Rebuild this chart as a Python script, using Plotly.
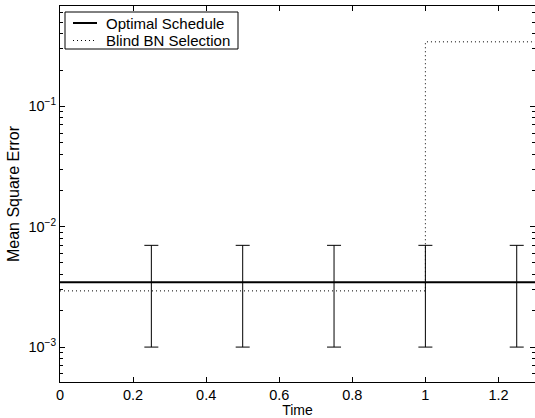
import plotly.graph_objects as go

# Data
opt_time = [0.0, 1.3]
opt_mse = [3.45e-3, 3.45e-3]

blind_time = [0.0, 1.0, 1.3]
blind_mse = [2.93e-3, 0.343, 0.343]

err_time = [0.25, 0.5, 0.75, 1.0, 1.25]
err_center = [3.45e-3] * 5
err_upper = [7.0e-3] * 5
err_lower = [1.0e-3] * 5

x_ticks = [0, 0.2, 0.4, 0.6, 0.8, 1.0, 1.2]
x_tick_labels = ["0", "0.2", "0.4", "0.6", "0.8", "1", "1.2"]

y_ticks = [1e-3, 1e-2, 1e-1]
y_tick_labels = ["10<sup>\u22123</sup>", "10<sup>\u22122</sup>", "10<sup>\u22121</sup>"]

legend_names = ["Optimal Schedule", "Blind BN Selection"]

FONT = "Liberation Sans, Arial, Helvetica, sans-serif"
DOT = "1px,3px"

# plot area in pixels (for legend placement)
L, R, T, B = 60, 535, 6, 382
def px(x):
    return (x - L) / (R - L)
def py(y):
    return (B - y) / (B - T)

minor_vals = [m * 10.0 ** e for e in range(-4, 0) for m in range(2, 10)]
yrange = [-3.29, -0.167]

fig = go.Figure()

fig.add_trace(go.Scatter(
    x=opt_time, y=opt_mse, mode="lines", name=legend_names[0],
    line=dict(color="black", width=2), showlegend=False,
))
fig.add_trace(go.Scatter(
    x=blind_time, y=blind_mse, mode="lines", name=legend_names[1],
    line=dict(color="black", width=1, dash=DOT, shape="hv"), showlegend=False,
))
fig.add_trace(go.Scatter(
    x=err_time, y=err_center, mode="markers", showlegend=False,
    marker=dict(size=1, opacity=0),
    error_y=dict(
        type="data", symmetric=False,
        array=[u - c for u, c in zip(err_upper, err_center)],
        arrayminus=[c - l for c, l in zip(err_center, err_lower)],
        color="black", thickness=1, width=7,
    ),
    yaxis="y2",
))
# empty traces so the minor-tick overlay axes are drawn
for ax in ["y3", "y4"]:
    fig.add_trace(go.Scatter(x=[None], y=[None], yaxis=ax, showlegend=False,
                             hoverinfo="skip"))

# Manual legend (box, samples, labels)
shapes = [
    dict(type="rect", xref="paper", yref="paper",
         x0=px(65), x1=px(238), y0=py(49), y1=py(12),
         line=dict(color="black", width=1), fillcolor="white", layer="above"),
    dict(type="line", xref="paper", yref="paper",
         x0=px(73), x1=px(97), y0=py(23), y1=py(23),
         line=dict(color="black", width=2), layer="above"),
    dict(type="line", xref="paper", yref="paper",
         x0=px(73), x1=px(97), y0=py(40.5), y1=py(40.5),
         line=dict(color="black", width=1, dash=DOT), layer="above"),
]
annotations = [
    dict(text=legend_names[0], xref="paper", yref="paper", x=px(104), y=py(23.5),
         xanchor="left", yanchor="middle", showarrow=False,
         font=dict(family=FONT, size=15, color="black")),
    dict(text=legend_names[1], xref="paper", yref="paper", x=px(104), y=py(40.5),
         xanchor="left", yanchor="middle", showarrow=False,
         font=dict(family=FONT, size=15, color="black")),
]

overlay_common = dict(type="log", overlaying="y", matches="y", range=yrange,
                      showticklabels=False, showline=False, showgrid=False,
                      zeroline=False, ticks="inside", tickcolor="black")

fig.update_layout(
    width=535, height=418,
    margin=dict(l=L, r=535 - R, t=T, b=418 - B),
    paper_bgcolor="white", plot_bgcolor="white",
    font=dict(family=FONT, size=14, color="black"),
    showlegend=False,
    shapes=shapes,
    annotations=annotations,
    xaxis=dict(
        range=[0, 1.3], tickvals=x_ticks, ticktext=x_tick_labels,
        ticks="inside", ticklen=5, tickcolor="black",
        showline=True, linecolor="black", linewidth=1, mirror="ticks",
        showgrid=False, zeroline=False,
        tickfont=dict(size=14.5),
        title=dict(text="Time", standoff=0, font=dict(size=14)),
    ),
    yaxis=dict(
        type="log", range=yrange, tickvals=y_ticks, ticktext=y_tick_labels,
        ticks="inside", ticklen=5, tickcolor="black",
        showline=True, linecolor="black", linewidth=1,
        showgrid=False, zeroline=False,
        tickfont=dict(size=14.5),
        title=dict(text="Mean Square Error", standoff=4, font=dict(size=16)),
    ),
    yaxis2=dict(side="right", tickvals=y_ticks, ticklen=5, **overlay_common),
    yaxis3=dict(side="left", tickvals=minor_vals, ticklen=3, **overlay_common),
    yaxis4=dict(side="right", tickvals=minor_vals, ticklen=3, **overlay_common),
)

fig.write_html("out.html")
